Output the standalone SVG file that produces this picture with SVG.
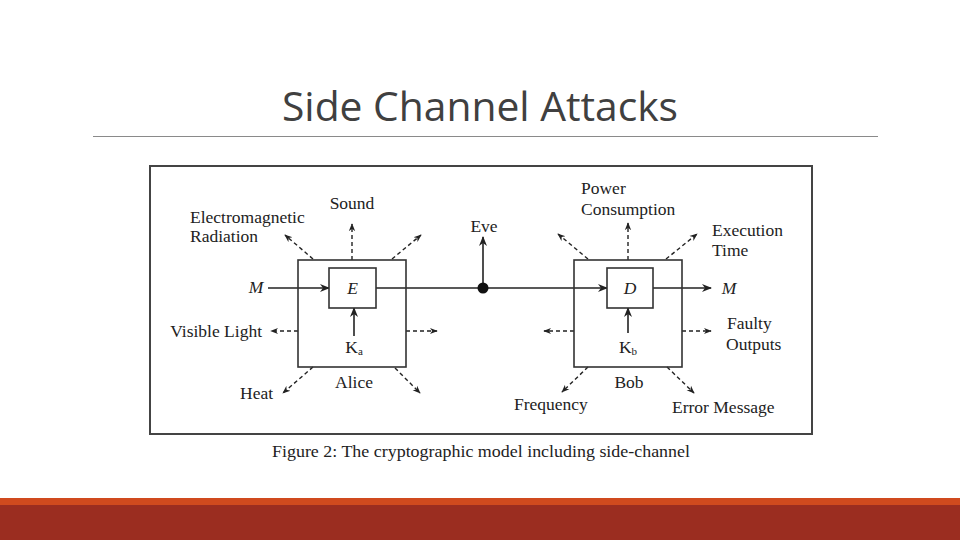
<svg xmlns="http://www.w3.org/2000/svg" width="960" height="540" viewBox="0 0 960 540">
<style>
.t{font-family:"Liberation Serif","Times New Roman",serif;font-size:17.5px;fill:#222}
.it{font-style:italic}
.box{fill:#fff;stroke:#333;stroke-width:1.6}
.ln{stroke:#222;stroke-width:1.6;fill:none}
.ds{stroke:#222;stroke-width:1.4;fill:none;stroke-dasharray:4 3}
</style>
<defs>
<marker id="ah" viewBox="0 0 10 10" refX="9" refY="5" markerWidth="10" markerHeight="10" markerUnits="userSpaceOnUse" orient="auto">
<path d="M0,1 L10,5 L0,9 L3,5 Z" fill="#222"/>
</marker>
<marker id="ahs" viewBox="0 0 10 10" refX="9" refY="5" markerWidth="8" markerHeight="8" markerUnits="userSpaceOnUse" orient="auto">
<path d="M0,1 L10,5 L0,9 L3,5 Z" fill="#222"/>
</marker>
</defs>
<rect width="960" height="540" fill="#fff"/>
<text x="282" y="121" font-family="'Open Sans','Liberation Sans',sans-serif" font-size="40" font-weight="400" fill="#404040" textLength="396" lengthAdjust="spacingAndGlyphs">Side Channel Attacks</text>
<line x1="93" y1="136.5" x2="878" y2="136.5" stroke="#8a8a8a" stroke-width="1.2"/>
<rect x="150" y="166" width="662" height="268" fill="#fff" stroke="#444" stroke-width="2"/>

<g id="connectors">
<line class="ln" x1="268" y1="288" x2="329" y2="288" marker-end="url(#ah)"/>
<line class="ln" x1="376" y1="288" x2="607" y2="288" marker-end="url(#ah)"/>
<line class="ln" x1="653" y1="288" x2="711" y2="288" marker-end="url(#ah)"/>
<line class="ln" x1="483" y1="288" x2="483" y2="237" marker-end="url(#ah)"/>
<line class="ln" x1="354" y1="336" x2="354" y2="308" marker-end="url(#ah)"/>
<line class="ln" x1="628" y1="333" x2="628" y2="308" marker-end="url(#ah)"/>
<line class="ds" x1="313" y1="259" x2="285" y2="235" marker-end="url(#ahs)"/>
<line class="ds" x1="352" y1="260" x2="352" y2="224" marker-end="url(#ahs)"/>
<line class="ds" x1="392" y1="259" x2="421" y2="235" marker-end="url(#ahs)"/>
<line class="ds" x1="298" y1="331" x2="271" y2="331" marker-end="url(#ahs)"/>
<line class="ds" x1="406" y1="331" x2="437" y2="331" marker-end="url(#ahs)"/>
<line class="ds" x1="313" y1="367" x2="283" y2="393" marker-end="url(#ahs)"/>
<line class="ds" x1="395" y1="368" x2="420" y2="393" marker-end="url(#ahs)"/>
<line class="ds" x1="588" y1="259" x2="558" y2="234" marker-end="url(#ahs)"/>
<line class="ds" x1="628" y1="260" x2="628" y2="223" marker-end="url(#ahs)"/>
<line class="ds" x1="666" y1="259" x2="697" y2="234" marker-end="url(#ahs)"/>
<line class="ds" x1="574" y1="331" x2="544" y2="331" marker-end="url(#ahs)"/>
<line class="ds" x1="682" y1="331" x2="711" y2="331" marker-end="url(#ahs)"/>
<line class="ds" x1="588" y1="367" x2="562" y2="392" marker-end="url(#ahs)"/>
<line class="ds" x1="667" y1="367" x2="694" y2="393" marker-end="url(#ahs)"/>
</g>

<g id="alice">
<rect class="box" x="298" y="260" width="108" height="107" style="fill:none"/>
<text class="t" x="354" y="388" text-anchor="middle">Alice</text>
</g>
<g id="encrypt">
<rect class="box" x="329" y="268" width="47" height="40"/>
<text class="t it" x="352.5" y="294" text-anchor="middle">E</text>
</g>
<g id="ka">
<text class="t" x="354" y="353" text-anchor="middle">K<tspan font-size="11" dy="2">a</tspan></text>
</g>
<g id="bob">
<rect class="box" x="574" y="260" width="108" height="107" style="fill:none"/>
<text class="t" x="629" y="388" text-anchor="middle">Bob</text>
</g>
<g id="decrypt">
<rect class="box" x="607" y="268" width="46" height="40"/>
<text class="t it" x="630" y="294" text-anchor="middle">D</text>
</g>
<g id="kb">
<text class="t" x="628" y="353" text-anchor="middle">K<tspan font-size="11" dy="2">b</tspan></text>
</g>
<g id="eve">
<circle cx="483" cy="288" r="5.5" fill="#111"/>
<text class="t" x="484" y="232" text-anchor="middle">Eve</text>
</g>
<g id="m-in"><text class="t it" x="256" y="293" text-anchor="middle">M</text></g>
<g id="m-out"><text class="t it" x="729" y="294" text-anchor="middle">M</text></g>
<g id="em"><text class="t" x="190" y="223">Electromagnetic</text><text class="t" x="190" y="242">Radiation</text></g>
<g id="sound"><text class="t" x="352" y="209" text-anchor="middle">Sound</text></g>
<g id="visible"><text class="t" x="262" y="337" text-anchor="end">Visible Light</text></g>
<g id="heat"><text class="t" x="240" y="399">Heat</text></g>
<g id="power"><text class="t" x="581" y="194">Power</text><text class="t" x="581" y="215">Consumption</text></g>
<g id="exec"><text class="t" x="712" y="236">Execution</text><text class="t" x="712" y="256">Time</text></g>
<g id="faulty"><text class="t" x="727" y="329">Faulty</text><text class="t" x="726" y="350">Outputs</text></g>
<g id="freq"><text class="t" x="514" y="410">Frequency</text></g>
<g id="err"><text class="t" x="672" y="413">Error Message</text></g>

<text x="272" y="457" font-family="'Liberation Serif','Times New Roman',serif" font-size="16.5" fill="#222" textLength="418" lengthAdjust="spacingAndGlyphs">Figure 2:  The cryptographic model including side-channel</text>

<rect x="0" y="498" width="960" height="7" fill="#D04A1E"/>
<rect x="0" y="505" width="960" height="35" fill="#9B2D20"/>
</svg>
